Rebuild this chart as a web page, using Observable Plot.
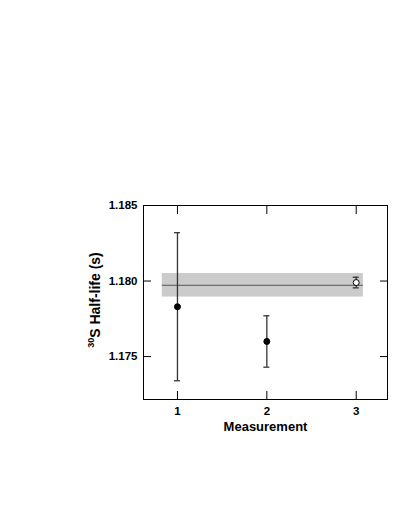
<!DOCTYPE html>
<html><head><meta charset="utf-8">
<script src="https://cdn.jsdelivr.net/npm/d3@7"></script>
<script src="https://cdn.jsdelivr.net/npm/@observablehq/plot@0.6"></script>
<style>body{margin:0;background:#fff;}svg{display:block;}</style>
</head><body><div id="chart"></div>
<script>
const measurements = [1, 2, 3];
const halfLife = [1.1783, 1.1760, 1.17990];
const halfLifeErr = [0.0049, 0.0017, 0.00035];
const filled = [true, true, false];
const average = 1.17972;
const averageErr = 0.00078;
const bandRange = [0.83, 3.08];
const xTicks = [1, 2, 3];
const yTicks = [1.175, 1.180, 1.185];

const pts = measurements.map((m, i) => ({m, v: halfLife[i], e: halfLifeErr[i], f: filled[i]}));
const band = [{x1: bandRange[0], x2: bandRange[1], y1: average - averageErr, y2: average + averageErr, y: average}];

const font = "'Liberation Sans', Arial, sans-serif";
const plot = Plot.plot({
  width: 411, height: 532,
  marginLeft: 143, marginRight: 24, marginTop: 205, marginBottom: 133,
  style: {fontFamily: font, fontSize: "11.5px", fontWeight: "bold", color: "#000", background: "#fff"},
  x: {domain: [0.62, 3.35]},
  y: {domain: [1.17216, 1.185]},
  marks: [
    Plot.rect(band, {x1: "x1", x2: "x2", y1: "y1", y2: "y2", fill: "#cbcbcb"}),
    Plot.ruleY(band, {x1: "x1", x2: "x2", y: "y", stroke: "#555", strokeWidth: 1}),
    Plot.ruleX(pts, {x: "m", y1: d => d.v - d.e, y2: d => d.v + d.e, stroke: "#333", strokeWidth: 1.3}),
    Plot.ruleY(pts, {x1: "m", x2: "m", y: d => d.v - d.e, insetLeft: -3, insetRight: -3, stroke: "#333", strokeWidth: 1.3}),
    Plot.ruleY(pts, {x1: "m", x2: "m", y: d => d.v + d.e, insetLeft: -3, insetRight: -3, stroke: "#333", strokeWidth: 1.3}),
    Plot.dot(pts, {x: "m", y: "v", r: 3, fill: d => d.f ? "#000" : "#fff", stroke: "#000", strokeWidth: 1}),
    Plot.frame({stroke: "#000", strokeWidth: 1}),
    Plot.axisX(xTicks, {anchor: "bottom", tickSize: -8, tickPadding: 15, label: "Measurement", labelAnchor: "center", labelArrow: "none", labelOffset: 31, tickFormat: d => String(d), fontSize: "11.5px"}),
    Plot.axisX(xTicks, {anchor: "top", tickSize: -8, text: null, label: null}),
    Plot.axisY(yTicks, {anchor: "left", tickSize: -8, tickPadding: 14, tickFormat: d => d.toFixed(3), label: null}),
    Plot.axisY(yTicks, {anchor: "right", tickSize: -8, text: null, label: null})
  ]
});
document.getElementById("chart").appendChild(plot);
const svg = d3.select(plot);
svg.selectAll("[aria-label='x-axis label'] text").style("font-size", "13px");
const t = svg.append("text")
  .attr("transform", "translate(98,300) rotate(-90)")
  .attr("text-anchor", "middle")
  .style("font-family", font).style("font-weight", "bold").style("font-size", "14px").attr("fill", "#000");
t.append("tspan").attr("font-size", "9px").attr("dy", "-0.45em").text("30");
t.append("tspan").attr("dy", "0.45em").text("S Half-life (s)");
</script></body></html>
